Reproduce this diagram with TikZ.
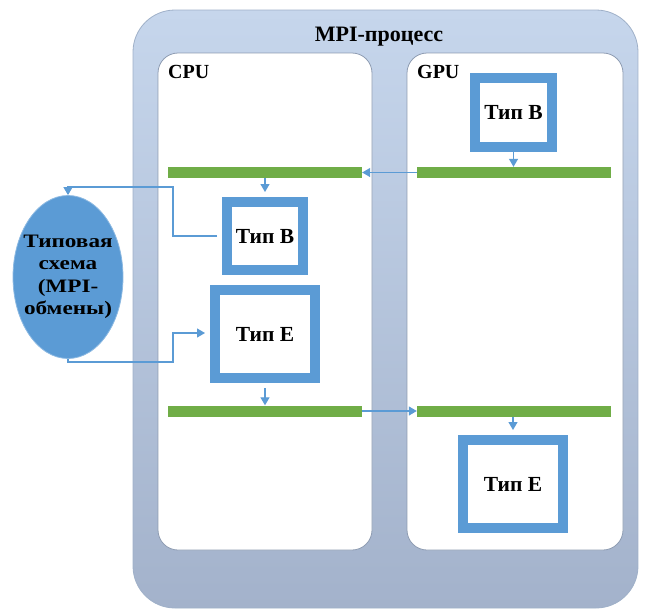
\documentclass[tikz,border=0pt]{standalone}
\usepackage{fontspec}
\setmainfont{Liberation Serif}
\usetikzlibrary{arrows.meta,shapes.geometric}
\definecolor{frametop}{HTML}{C6D6EC}
\definecolor{framebot}{HTML}{A3B2CB}
\definecolor{frameline}{HTML}{9FB0C8}
\definecolor{panelline}{HTML}{8E9CB2}
\definecolor{tblue}{HTML}{5B9BD5}
\definecolor{tgreen}{HTML}{70AD47}
\tikzset{
  typebox/.style={draw=tblue, line width=10pt, fill=white, inner sep=0pt,
    font=\bfseries\fontsize{21.5}{23}\selectfont},
  bar/.style={fill=tgreen, draw=none, inner sep=0pt, minimum width=194pt, minimum height=11pt},
  conn/.style={draw=tblue, line width=1.2pt, -{Triangle[width=9pt,length=8pt]}},
  lbl/.style={font=\bfseries\fontsize{20}{22}\selectfont, inner sep=0pt},
  panel/.style={fill=white, draw=panelline, line width=0.8pt, rounded corners=20pt}
}
\begin{document}
\begin{tikzpicture}[x=1pt,y=-1pt]
\useasboundingbox (0,0) rectangle (646,611);
% outer frame
\path[top color=frametop, bottom color=framebot, draw=frameline, line width=0.8pt, rounded corners=42pt]
  (133,10) rectangle (638,608);
\node[lbl, font=\bfseries\fontsize{22}{24}\selectfont] (title) at (379,37) {MPI-процесс};
% panels
\draw[panel] (158,53) rectangle (372,550);
\draw[panel] (407,53) rectangle (623,550);
\node[lbl, anchor=west] (cpu) at (168,72) {CPU};
\node[lbl, anchor=west] (gpu) at (417,72) {GPU};
% green bars
\node[bar] (cb1) at (265,172.5) {};
\node[bar] (gb1) at (514,172.5) {};
\node[bar] (cb2) at (265,411) {};
\node[bar] (gb2) at (514,411) {};
% type boxes
\node[typebox, minimum width=77pt, minimum height=69pt] (gB) at (513.5,112) {Тип В};
\node[typebox, minimum width=76pt, minimum height=68pt] (cB) at (265,236) {Тип В};
\node[typebox, minimum width=100pt, minimum height=88pt] (cE) at (265,334) {Тип Е};
\node[typebox, minimum width=100pt, minimum height=88pt] (gE) at (513,484) {Тип Е};
% ellipse
\node[ellipse, fill=tblue, draw=tblue!70, line width=0.8pt, minimum width=110pt, minimum height=163pt, inner sep=0pt] (sch) at (68,277) {};
\node[inner sep=0pt, align=center, font=\bfseries\fontsize{19}{22.5}\selectfont] (schtext) at (68,277)
  {\scalebox{1.22}[1]{Типовая}\\\scalebox{1.22}[1]{схема}\\\scalebox{1.22}[1]{(MPI-}\\\scalebox{1.22}[1]{обмены)}};
% coordinates for connectors
\coordinate (j1) at (173,236);
\coordinate (j2) at (173,187);
\coordinate (j3) at (68,187);
\coordinate (k1) at (68,362);
\coordinate (k2) at (173,362);
\coordinate (k3) at (173,333);
% connectors
\draw[conn] (gB.south) ++(0,-5) -- (gb1.north -| gB.south);
\draw[conn] (gb1.west) -- (cb1.east);
\draw[conn] (cb1.south -| cB.north) -- ([yshift=5pt]cB.north);
\draw[conn] ([xshift=-5pt]cB.west) -- (j1) -- (j2) -- (j3) -- (sch.north);
\draw[conn] (sch.south) -- (k1) -- (k2) -- (k3) -- ([xshift=-5pt]cE.west |- k3);
\draw[conn] ([yshift=-5pt]cE.south) -- (cb2.north -| cE.south);
\draw[conn] (cb2.east) -- (gb2.west);
\draw[conn] (gb2.south -| gE.north) -- ([yshift=5pt]gE.north);
\end{tikzpicture}
\end{document}
